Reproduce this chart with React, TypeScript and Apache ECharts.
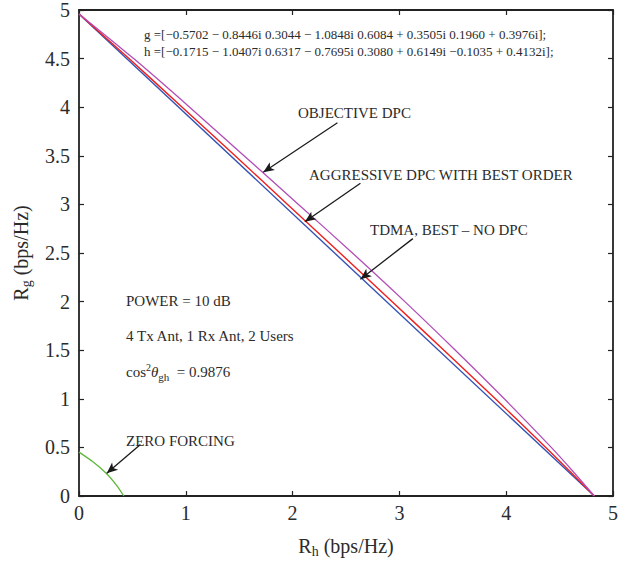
import React, { useEffect, useRef } from "react";
import * as echarts from "echarts";

// ---- data ----
const tdmaX = [0, 4.825];
const tdmaY = [4.96, 0];

const dpcY = [4.96, 4.5, 4.0, 3.5, 3.0, 2.5, 2.0, 1.5, 1.0, 0.5, 0.25, 0];
const aggressiveX = [0, 0.468, 0.966, 1.462, 1.953, 2.444, 2.93, 3.417, 3.898, 4.371, 4.6, 4.825];
const objectiveX = [0, 0.512, 1.036, 1.545, 2.055, 2.56, 3.051, 3.524, 3.982, 4.422, 4.628, 4.825];

const zfX = [0, 0.133, 0.257, 0.35, 0.42];
const zfY = [0.451, 0.349, 0.231, 0.112, 0];

// arrows: [fromX, fromY, toX, toY]
const arrowObjective = [2.42, 3.84, 1.725, 3.33];
const arrowAggressive = [2.635, 3.218, 2.115, 2.821];
const arrowTdma = [3.126, 2.648, 2.635, 2.23];
const arrowZf = [0.575, 0.53, 0.26, 0.234];

const gLine = "g =[−0.5702 − 0.8446i 0.3044 − 1.0848i 0.6084 + 0.3505i 0.1960 + 0.3976i];";
const hLine = "h =[−0.1715 − 1.0407i 0.6317 − 0.7695i 0.3080 + 0.6149i −0.1035 + 0.4132i];";

const FONT = "Liberation Serif";
const TXT = "#2b2b2b";
const AX = "#222";

const zip = (xs: number[], ys: number[]) => xs.map((x, i) => [x, ys[i]]);

export default function App() {
  const ref = useRef<HTMLDivElement>(null);
  useEffect(() => {
    if (!ref.current) return;
    const chart = echarts.init(ref.current, undefined, { renderer: "svg" });
    const axisCommon = {
      type: "value" as const,
      min: 0,
      max: 5,
      axisLine: { show: true, onZero: false, lineStyle: { color: AX, width: 1.8 } },
      axisTick: { show: true, inside: true, length: 5, lineStyle: { color: AX, width: 1.2 } },
      splitLine: { show: false },
    };
    const labelStyle = { fontFamily: FONT, fontSize: 20, color: TXT };
    const arrowLine = (a: number[]) => [
      { coord: [a[0], a[1]] },
      { coord: [a[2], a[3]] },
    ];
    const textEl = (x: number, y: number, text: string, size = 15, rich?: any) => ({
      type: "text",
      x,
      y,
      silent: true,
      style: {
        text,
        fontFamily: FONT,
        fontSize: size,
        fill: TXT,
        verticalAlign: "middle",
        align: "left",
        rich,
      },
    });
    const subRich = { sub: { fontFamily: FONT, fontSize: 14, color: TXT, padding: [10, 0, 0, 0] } };
    chart.setOption({
      animation: false,
      backgroundColor: "#fff",
      textStyle: { fontFamily: FONT },
      grid: { left: 79, right: 3, top: 10, bottom: 62, containLabel: false },
      xAxis: [
        {
          ...axisCommon,
          interval: 1,
          position: "bottom",
          axisLabel: { ...labelStyle, margin: 7 },
          name: "R{sub|h} (bps/Hz)",
          nameLocation: "middle",
          nameGap: 38,
          nameTextStyle: { ...labelStyle, rich: subRich },
        },
        {
          ...axisCommon,
          interval: 1,
          position: "top",
          axisLabel: { show: false },
        },
      ],
      yAxis: [
        {
          ...axisCommon,
          interval: 0.5,
          position: "left",
          axisLabel: { ...labelStyle, margin: 9 },
          name: "R{sub|g} (bps/Hz)",
          nameLocation: "middle",
          nameGap: 46,
          nameTextStyle: { ...labelStyle, rich: subRich },
        },
        {
          ...axisCommon,
          interval: 0.5,
          position: "right",
          axisLabel: { show: false },
        },
      ],
      series: [
        {
          name: "TDMA, BEST – NO DPC",
          type: "line",
          data: zip(tdmaX, tdmaY),
          showSymbol: false,
          lineStyle: { color: "#3454b4", width: 1.4 },
          markLine: {
            silent: true,
            symbol: ["none", "arrow"],
            symbolSize: [7, 11],
            label: { show: false },
            lineStyle: { color: "#1a1a1a", width: 1.3, type: "solid" },
            data: [arrowLine(arrowObjective), arrowLine(arrowAggressive), arrowLine(arrowTdma), arrowLine(arrowZf)],
          },
        },
        {
          name: "AGGRESSIVE DPC WITH BEST ORDER",
          type: "line",
          data: zip(aggressiveX, dpcY),
          showSymbol: false,
          smooth: 0.3,
          lineStyle: { color: "#f01e1e", width: 1.4 },
        },
        {
          name: "OBJECTIVE DPC",
          type: "line",
          data: zip(objectiveX, dpcY),
          showSymbol: false,
          smooth: 0.3,
          lineStyle: { color: "#b24db8", width: 1.3 },
        },
        {
          name: "ZERO FORCING",
          type: "line",
          data: zip(zfX, zfY),
          showSymbol: false,
          smooth: 0.3,
          lineStyle: { color: "#5cb83a", width: 1.3 },
        },
      ],
      graphic: [
        textEl(144, 34, gLine, 13),
        textEl(144, 51, hLine, 13),
        textEl(298, 113, "OBJECTIVE DPC"),
        textEl(309, 175, "AGGRESSIVE DPC WITH BEST ORDER"),
        textEl(370, 230, "TDMA, BEST – NO DPC"),
        textEl(126, 301, "POWER = 10 dB"),
        textEl(126, 336, "4 Tx Ant, 1 Rx Ant, 2 Users"),
        textEl(126, 372, "cos{sup|2}{th|θ}{sub|gh}  = 0.9876", 15, {
          sup: { fontFamily: FONT, fontSize: 10, fill: TXT, padding: [0, 0, 9, 0] },
          th: { fontFamily: FONT, fontSize: 15, fontStyle: "italic", fill: TXT },
          sub: { fontFamily: FONT, fontSize: 11, fill: TXT, padding: [9, 0, 0, 0] },
        }),
        textEl(126, 441, "ZERO FORCING"),
      ],
    });
    return () => chart.dispose();
  }, []);
  return (
    <div
      ref={ref}
      style={{ position: "absolute", left: 0, top: 0, width: 621, height: 563, background: "#fff" }}
    />
  );
}
